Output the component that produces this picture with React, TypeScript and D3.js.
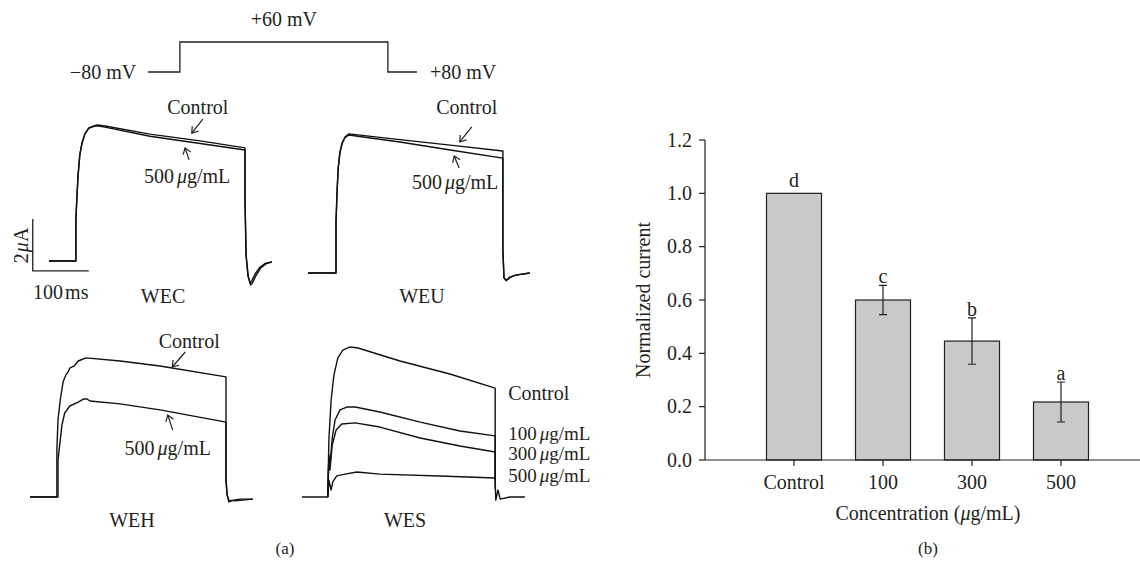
import React from "react";
import * as d3 from "d3";

// ---- data ----
// traces: [time (ms), current (uA) relative to holding current]
const wecControl: [number, number][] = [
  [0, 0], [48, 0], [48, 1.58], [50, 2.54], [52, 3.31], [55, 4.08], [59, 4.54], [64, 4.88], [71, 5.12],
  [79, 5.19], [86, 5.23], [100, 5.19], [180, 4.88], [270, 4.62], [350, 4.35], [350, 2.35], [352, 0.23],
  [355, -0.54], [359, -0.85], [362, -0.77], [368, -0.5], [377, -0.23], [387, -0.08], [398, -0.04],
];
const wec500: [number, number][] = [
  [0, 0], [48, 0], [48, 1.58], [50, 2.54], [52, 3.31], [55, 4.08], [59, 4.54], [64, 4.88], [71, 5.1],
  [79, 5.17], [86, 5.2], [100, 5.15], [180, 4.8], [270, 4.52], [350, 4.27], [350, 2.3], [352, 0.2],
  [356, -0.62], [360, -0.92], [363, -0.85], [369, -0.58], [378, -0.27], [388, -0.1], [398, -0.04],
];
const weuControl: [number, number][] = [
  [0, 0], [50, 0], [50, 1.96], [52, 3.19], [54, 4.04], [57, 4.65], [61, 5.0], [66, 5.23], [73, 5.35],
  [164, 5.13], [254, 4.92], [348, 4.69], [348, 0.88], [350, -0.19], [354, -0.27], [361, -0.15],
  [371, -0.08], [396, 0],
];
const weu500: [number, number][] = [
  [0, 0], [50, 0], [50, 1.96], [52, 3.19], [54, 4.04], [57, 4.62], [61, 4.98], [66, 5.2], [73, 5.31],
  [164, 5.04], [254, 4.73], [348, 4.42], [348, 0.88], [350, -0.19], [354, -0.3], [361, -0.17],
  [371, -0.08], [396, 0],
];
const wehControl: [number, number][] = [
  [0, 0], [48, 0], [48, 1.81], [50, 2.96], [54, 3.73], [59, 4.42], [64, 4.69], [68, 4.81], [71, 4.96],
  [79, 5.04], [86, 5.23], [100, 5.35], [161, 5.23], [232, 5.04], [350, 4.62], [350, 0.65], [352, 0.08],
  [355, -0.19], [363, -0.12], [375, -0.08], [398, -0.08],
];
const weh500: [number, number][] = [
  [0, 0], [50, 0], [50, 1.42], [54, 2.19], [57, 2.77], [62, 3.23], [71, 3.5], [86, 3.65], [96, 3.77],
  [102, 3.77], [107, 3.69], [161, 3.58], [232, 3.35], [350, 2.88], [350, 0.65], [352, 0.08],
  [355, -0.12], [366, -0.15], [398, -0.08],
];
const wesControl: [number, number][] = [
  [0, 0], [46, 0], [48, 2.19], [52, 3.73], [57, 4.69], [64, 5.35], [73, 5.65], [86, 5.77], [100, 5.73],
  [175, 5.23], [264, 4.73], [345, 4.19], [345, 0.65], [346, -0.12], [350, 0.27], [354, -0.08],
  [371, 0], [398, 0],
];
const wes100: [number, number][] = [
  [46, 0], [48, 1.62], [50, 1.23], [54, 2.27], [59, 2.96], [68, 3.35], [80, 3.46], [95, 3.46],
  [139, 3.27], [211, 2.88], [282, 2.54], [345, 2.35], [345, 0.65],
];
const wes300: [number, number][] = [
  [46, 0], [48, 1.5], [50, 1.04], [54, 2.0], [61, 2.58], [71, 2.81], [95, 2.85], [139, 2.69],
  [211, 2.27], [282, 1.96], [345, 1.73], [345, 0.65],
];
const wes500: [number, number][] = [
  [46, 0], [48, 0.65], [52, 0.27], [55, 0.58], [62, 0.81], [77, 0.88], [98, 0.96], [139, 0.88],
  [246, 0.81], [345, 0.73], [345, 0.3],
];

// voltage protocol (ms, level 0 = low, 1 = high)
const protocolT = [0, 46, 346, 388];
const protocolLevel = [0, 1, 0, 0];
const protocolLabels = ["\u221280 mV", "+60 mV", "+80 mV"];

// bar chart
const concentrations = ["Control", "100", "300", "500"];
const normCurrent = [1.0, 0.6, 0.446, 0.2175];
const normErr = [0, 0.055, 0.087, 0.075];
const sigLetters = ["d", "c", "b", "a"];
const yTicks = [0, 0.2, 0.4, 0.6, 0.8, 1.0, 1.2];

const FONT = "'Liberation Serif', 'Times New Roman', serif";
const INK = "#231f20";

function Mu({ gap = 3 }: { gap?: number }) {
  return (
    <tspan dx={gap} fontStyle="italic">
      μ
    </tspan>
  );
}

function Conc({ v }: { v: string }) {
  return (
    <>
      {v}
      <Mu />g/mL
    </>
  );
}

function Arrow({ x1, y1, x2, y2 }: { x1: number; y1: number; x2: number; y2: number }) {
  const a = Math.atan2(y2 - y1, x2 - x1);
  const h = 7;
  const p1 = [x1 + h * Math.cos(a + 0.6), y1 + h * Math.sin(a + 0.6)];
  const p2 = [x1 + h * Math.cos(a - 0.6), y1 + h * Math.sin(a - 0.6)];
  return (
    <g stroke={INK} strokeWidth={1.2} fill="none">
      <line x1={x1} y1={y1} x2={x2} y2={y2} />
      <polyline points={`${p1[0]},${p1[1]} ${x1},${y1} ${p2[0]},${p2[1]}`} />
    </g>
  );
}

type Ann = { t: number; i: number; dx: number; dy: number; tx: number; ty: number; conc?: string };

function TracePanel({
  x0,
  y0,
  traces,
  anns = [],
}: {
  x0: number;
  y0: number;
  traces: [number, number][][];
  anns?: Ann[];
}) {
  const x = d3.scaleLinear().domain([0, 100]).range([x0, x0 + 56]);
  const y = d3.scaleLinear().domain([0, 2]).range([y0, y0 - 52]);
  const line = d3
    .line<[number, number]>()
    .x((d) => x(d[0]))
    .y((d) => y(d[1]));
  return (
    <g>
      {traces.map((tr, k) => (
        <path key={k} d={line(tr) || ""} fill="none" stroke="#111" strokeWidth={1.4} strokeLinejoin="round" />
      ))}
      {anns.map((a, k) => {
        const px = x(a.t);
        const py = y(a.i);
        return (
          <g key={k}>
            <Arrow x1={px} y1={py} x2={px + a.dx} y2={py + a.dy} />
            <text x={px + a.tx} y={py + a.ty} textAnchor="middle">
              {a.conc ? <Conc v={a.conc} /> : "Control"}
            </text>
          </g>
        );
      })}
    </g>
  );
}

export default function App() {
  // protocol scales
  const px = d3.scaleLinear().domain([0, 300]).range([148, 356]);
  const py = d3.scaleLinear().domain([0, 1]).range([72, 42]);
  const protoLine = d3
    .line<number>()
    .x((_, k) => px(protocolT[k]))
    .y((d) => py(d))
    .curve(d3.curveStepAfter);

  // WEC scale bar scales
  const sx = d3.scaleLinear().domain([0, 100]).range([49, 105]);
  const sy = d3.scaleLinear().domain([0, 2]).range([261, 209]);

  // WES right-hand labels
  const wx = d3.scaleLinear().domain([0, 100]).range([302, 358]);
  const wy = d3.scaleLinear().domain([0, 2]).range([497, 445]);
  const wesLabelI = [4.0, 2.42, 1.66, 0.81];

  // bar chart scales
  const bx = d3
    .scaleBand<string>()
    .domain(concentrations)
    .range([749.5, 1105.5])
    .paddingInner(34 / 89)
    .paddingOuter(17 / 89);
  const by = d3.scaleLinear().domain([0, 1.2]).range([460, 140]);

  return (
    <svg
      width={1140}
      height={563}
      style={{ position: "absolute", left: 0, top: 0, background: "#fff" }}
      fontFamily={FONT}
      fontSize={20}
      fill={INK}
    >
      {/* ---------- panel (a) ---------- */}
      <path d={protoLine(protocolLevel) || ""} fill="none" stroke={INK} strokeWidth={1.3} />
      <text x={px(protocolT[0]) - 45} y={py(0)} dy="0.33em" textAnchor="middle">
        {protocolLabels[0]}
      </text>
      <text x={px((protocolT[1] + protocolT[2]) / 2)} y={py(1) - 16} textAnchor="middle">
        {protocolLabels[1]}
      </text>
      <text x={px(protocolT[3]) + 13} y={py(0)} dy="0.33em">
        {protocolLabels[2]}
      </text>

      {/* scale bar */}
      <path
        d={`M${sx(-29)},${sy(-0.38 + 2)}V${sy(-0.38)}H${sx(71)}`}
        fill="none"
        stroke={INK}
        strokeWidth={1.3}
      />
      <text transform={`translate(21,${sy(0.6)}) rotate(-90)`} textAnchor="middle" dy="0.33em">
        2<Mu gap={1} />A
      </text>
      <text x={sx(21)} y={299} textAnchor="middle">
        100<tspan dx={2}>ms</tspan>
      </text>

      <TracePanel
        x0={49}
        y0={261}
        traces={[wecControl, wec500]}
        anns={[
          { t: 255, i: 4.92, dx: 11, dy: -14, tx: 6, ty: -19 },
          { t: 243, i: 4.35, dx: 4, dy: 12, tx: 2, ty: 35, conc: "500" },
        ]}
      />
      <TracePanel
        x0={308}
        y0={273}
        traces={[weuControl, weu500]}
        anns={[
          { t: 271, i: 5.04, dx: 12, dy: -15, tx: 7, ty: -28 },
          { t: 261, i: 4.5, dx: 5, dy: 12, tx: 1, ty: 33, conc: "500" },
        ]}
      />
      <TracePanel
        x0={30}
        y0={497}
        traces={[wehControl, weh500]}
        anns={[
          { t: 254, i: 5.0, dx: 13, dy: -15, tx: 17, ty: -19 },
          { t: 246, i: 3.15, dx: 5, dy: 15, tx: 0, ty: 40, conc: "500" },
        ]}
      />
      <TracePanel x0={302} y0={497} traces={[wesControl, wes100, wes300, wes500]} />
      {wesLabelI.map((v, k) => (
        <text key={k} x={wx(345) + 13} y={wy(v)} dy="0.33em" fontSize={k === 0 ? 20 : 19}>
          {k === 0 ? "Control" : <Conc v={concentrations[k]} />}
        </text>
      ))}

      <text x={163} y={303} textAnchor="middle">WEC</text>
      <text x={422} y={303} textAnchor="middle">WEU</text>
      <text x={132} y={527} textAnchor="middle">WEH</text>
      <text x={405} y={527} textAnchor="middle">WES</text>
      <text x={285} y={554} textAnchor="middle" fontSize={17}>(a)</text>

      {/* ---------- panel (b) ---------- */}
      {concentrations.map((c, k) => (
        <rect
          key={c}
          x={bx(c)}
          y={by(normCurrent[k])}
          width={bx.bandwidth()}
          height={by(0) - by(normCurrent[k])}
          fill="#c8c9cb"
          stroke={INK}
          strokeWidth={1.2}
        />
      ))}
      {concentrations.map((c, k) => {
        const cx = (bx(c) || 0) + bx.bandwidth() / 2;
        const hi = by(normCurrent[k] + normErr[k]);
        const lo = by(normCurrent[k] - normErr[k]);
        return (
          <g key={c}>
            {normErr[k] > 0 && (
              <path
                d={`M${cx - 4},${hi}H${cx + 4}M${cx},${hi}V${lo}M${cx - 4},${lo}H${cx + 4}`}
                stroke={INK}
                strokeWidth={1.2}
                fill="none"
              />
            )}
            <text x={cx} y={normErr[k] > 0 ? hi - 2 : hi - 6} textAnchor="middle">
              {sigLetters[k]}
            </text>
          </g>
        );
      })}

      {/* y axis */}
      <line x1={705} x2={705} y1={by(1.2)} y2={by(0)} stroke={INK} strokeWidth={1.2} />
      {yTicks.map((t) => (
        <g key={t}>
          <line x1={699} x2={705} y1={by(t)} y2={by(t)} stroke={INK} strokeWidth={1.2} />
          <text x={692} y={by(t)} dy="0.33em" textAnchor="end">
            {t.toFixed(1)}
          </text>
        </g>
      ))}
      <text transform={`translate(643,${by(0.6)}) rotate(-90)`} textAnchor="middle" dy="0.33em">
        Normalized current
      </text>

      {/* x axis */}
      <line x1={705} x2={1140} y1={by(0)} y2={by(0)} stroke={INK} strokeWidth={1.2} />
      {concentrations.map((c) => {
        const cx = (bx(c) || 0) + bx.bandwidth() / 2;
        return (
          <g key={c}>
            <line x1={cx} x2={cx} y1={by(0)} y2={by(0) + 6} stroke={INK} strokeWidth={1.2} />
            <text x={cx} y={489} textAnchor="middle">
              {c}
            </text>
          </g>
        );
      })}
      <text x={928} y={520} textAnchor="middle">
        Concentration (<tspan fontStyle="italic">μ</tspan>g/mL)
      </text>
      <text x={928} y={554} textAnchor="middle" fontSize={17}>(b)</text>
    </svg>
  );
}
